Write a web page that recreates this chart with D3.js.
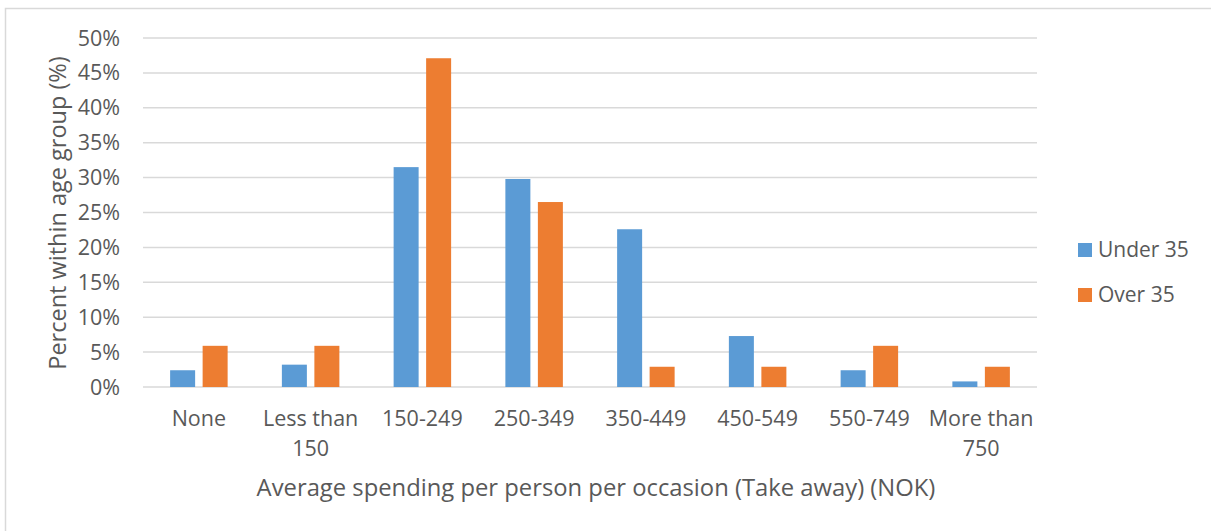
<!DOCTYPE html>
<html><head><meta charset="utf-8">
<script src="https://cdn.jsdelivr.net/npm/d3@7"></script>
<style>
html,body{margin:0;padding:0;background:#fff;}
svg{display:block;font-family:"Open Sans",Lato,sans-serif;}
</style></head>
<body>
<script>
const categories = [["None"],["Less than","150"],["150-249"],["250-349"],["350-449"],["450-549"],["550-749"],["More than","750"]];
const seriesNames = ["Under 35","Over 35"];
const under35 = [2.4, 3.2, 31.5, 29.8, 22.6, 7.3, 2.4, 0.8];
const over35 = [5.9, 5.9, 47.1, 26.5, 2.9, 2.9, 5.9, 2.9];
const yTicks = [0,5,10,15,20,25,30,35,40,45,50];
const colors = ["#5B9BD5","#ED7D31"];
const yTitle = "Percent within age group (%)";
const xTitle = "Average spending per person per occasion (Take away) (NOK)";

(function(){
const W = 1211, H = 531;
const pL = 143, pR = 1037, pT = 38, pB = 387;
const svg = d3.select("body").append("svg").attr("width", W).attr("height", H);

svg.append("rect").attr("x",5.5).attr("y",8.5).attr("width",W+10).attr("height",H+10)
  .attr("fill","#fff").attr("stroke","#d9d9d9").attr("stroke-width",1.5);

const x = d3.scaleBand().domain(d3.range(categories.length)).range([pL,pR]).padding(0);
const y = d3.scaleLinear().domain([0,50]).range([pB,pT]);

svg.append("g").selectAll("line").data(yTicks).join("line")
  .attr("x1",pL).attr("x2",pR)
  .attr("y1",d=>y(d)).attr("y2",d=>y(d))
  .attr("stroke","#d9d9d9").attr("stroke-width",1.5);

svg.append("g").selectAll("text").data(yTicks).join("text")
  .attr("x",120).attr("y",d=>y(d)).attr("dy","0.35em")
  .attr("text-anchor","end").attr("fill","#595959").attr("font-size",21.5)
  .text(d=>d+"%");

const barW = 25, gap = 7.5;
const series = [under35, over35];
series.forEach((vals,si)=>{
  svg.append("g").selectAll("rect").data(vals).join("rect")
    .attr("x",(d,i)=>x(i)+x.bandwidth()/2 + (si===0 ? -(barW+gap/2) : gap/2))
    .attr("width",barW)
    .attr("y",d=>y(d)).attr("height",d=>y(0)-y(d))
    .attr("fill",colors[si]);
});

const xl = svg.append("g").selectAll("text").data(categories).join("text")
  .attr("x",(d,i)=>x(i)+x.bandwidth()/2).attr("y",418)
  .attr("text-anchor","middle").attr("fill","#595959").attr("font-size",21.5);
xl.selectAll("tspan").data(d=>d).join("tspan")
  .attr("x",function(){return this.parentNode.getAttribute("x");})
  .attr("dy",(d,i)=>i===0?"0.35em":30)
  .text(d=>d);

svg.append("text").attr("x",(pL+pR)/2+6).attr("y",488).attr("dy","0.35em")
  .attr("text-anchor","middle").attr("fill","#595959").attr("font-size",23.8)
  .text(xTitle);
svg.append("text").attr("transform",`translate(58,213) rotate(-90)`)
  .attr("text-anchor","middle").attr("dy","0.35em").attr("fill","#595959").attr("font-size",23.5)
  .text(yTitle);

const lg = svg.append("g").selectAll("g").data(seriesNames).join("g")
  .attr("transform",(d,i)=>`translate(1078,${243 + i*45})`);
lg.append("rect").attr("width",14).attr("height",14).attr("fill",(d,i)=>colors[i]);
lg.append("text").attr("x",20).attr("y",7).attr("dy","0.35em")
  .attr("fill","#595959").attr("font-size",21).text(d=>d);
})();
</script>
</body></html>
